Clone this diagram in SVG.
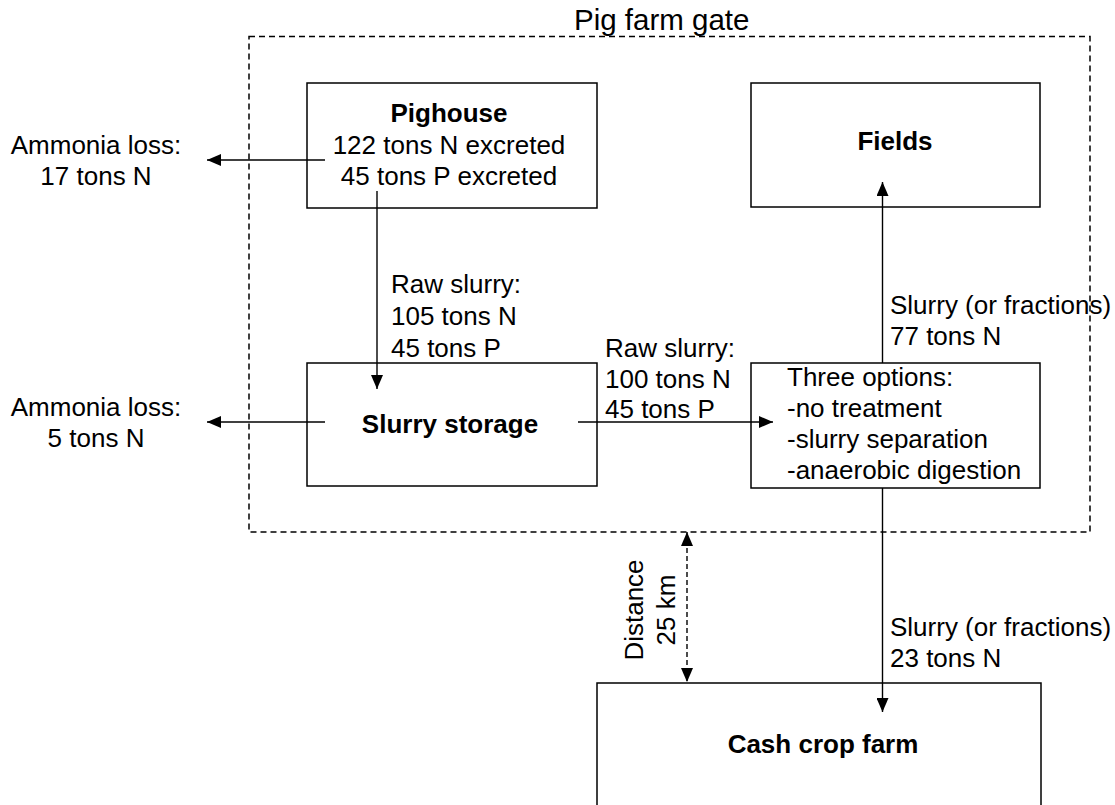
<svg xmlns="http://www.w3.org/2000/svg" width="1115" height="805" viewBox="0 0 1115 805">
<style>
text{font-family:"Liberation Sans",Arial,sans-serif;font-size:26px;fill:#000}
.b{font-weight:bold}
.m{text-anchor:middle}
.box{fill:#fff;stroke:#000;stroke-width:1.5}
.gate{fill:none;stroke:#000;stroke-width:1.5;stroke-dasharray:6 4}
.c{stroke:#000;stroke-width:1.4;fill:none}
</style>
<defs>
<marker id="ah" viewBox="0 0 14 12" markerWidth="14" markerHeight="12" refX="14" refY="6" orient="auto-start-reverse" markerUnits="userSpaceOnUse">
<path d="M0,0 L14,6 L0,12 z" fill="#000"/>
</marker>
</defs>
<rect width="1115" height="805" fill="#fff"/>
<g id="gate">
<rect class="gate" x="249" y="36.5" width="841" height="495.5"/>
<text x="574" y="29.5" style="font-size:29.5px">Pig farm gate</text>
</g>
<g id="pighouse">
<rect class="box" x="307" y="83" width="290" height="125"/>
<text class="b m" x="449" y="122">Pighouse</text>
<text class="m" x="449" y="154">122 tons N excreted</text>
<text class="m" x="449" y="185">45 tons P excreted</text>
</g>
<g id="fields">
<rect class="box" x="751" y="83" width="289" height="124"/>
<text class="b m" x="895" y="150">Fields</text>
</g>
<g id="slurry-storage">
<rect class="box" x="307" y="363" width="290" height="123"/>
<text class="b m" x="450" y="433">Slurry storage</text>
</g>
<g id="options">
<rect class="box" x="751" y="363" width="289" height="125"/>
<text x="787" y="386">Three options:</text>
<text x="787" y="417">-no treatment</text>
<text x="787" y="448">-slurry separation</text>
<text x="787" y="479">-anaerobic digestion</text>
</g>
<g id="cash-crop">
<rect class="box" x="597" y="683" width="444" height="140"/>
<text class="b m" x="823" y="753">Cash crop farm</text>
</g>
<g id="ammonia1">
<text class="m" x="96" y="154">Ammonia loss:</text>
<text class="m" x="96" y="185">17 tons N</text>
</g>
<g id="ammonia2">
<text class="m" x="96" y="416">Ammonia loss:</text>
<text class="m" x="96" y="447">5 tons N</text>
</g>
<g id="connectors">
<line class="c" x1="325" y1="160" x2="207" y2="160" marker-end="url(#ah)"/>
<line class="c" x1="377" y1="191" x2="377" y2="389" marker-end="url(#ah)"/>
<line class="c" x1="325" y1="422" x2="207" y2="422" marker-end="url(#ah)"/>
<line class="c" x1="578" y1="422" x2="773" y2="422" marker-end="url(#ah)"/>
<line class="c" x1="882.5" y1="363" x2="882.5" y2="182" marker-end="url(#ah)"/>
<line class="c" x1="882.5" y1="488" x2="882.5" y2="712" marker-end="url(#ah)"/>
<line class="c" x1="687" y1="532" x2="687" y2="682" style="stroke-dasharray:5 3" marker-start="url(#ah)" marker-end="url(#ah)"/>
</g>
<g id="labels">
<text x="391" y="293">Raw slurry:</text>
<text x="391" y="325">105 tons N</text>
<text x="391" y="357">45 tons P</text>
<text x="605" y="357">Raw slurry:</text>
<text x="605" y="388">100 tons N</text>
<text x="605" y="418">45 tons P</text>
<text x="890" y="314">Slurry (or fractions)</text>
<text x="890" y="345">77 tons N</text>
<text x="890" y="636">Slurry (or fractions)</text>
<text x="890" y="667">23 tons N</text>
<text transform="translate(643,610) rotate(-90)" class="m">Distance</text>
<text transform="translate(675,610) rotate(-90)" class="m">25 km</text>
</g>
</svg>
